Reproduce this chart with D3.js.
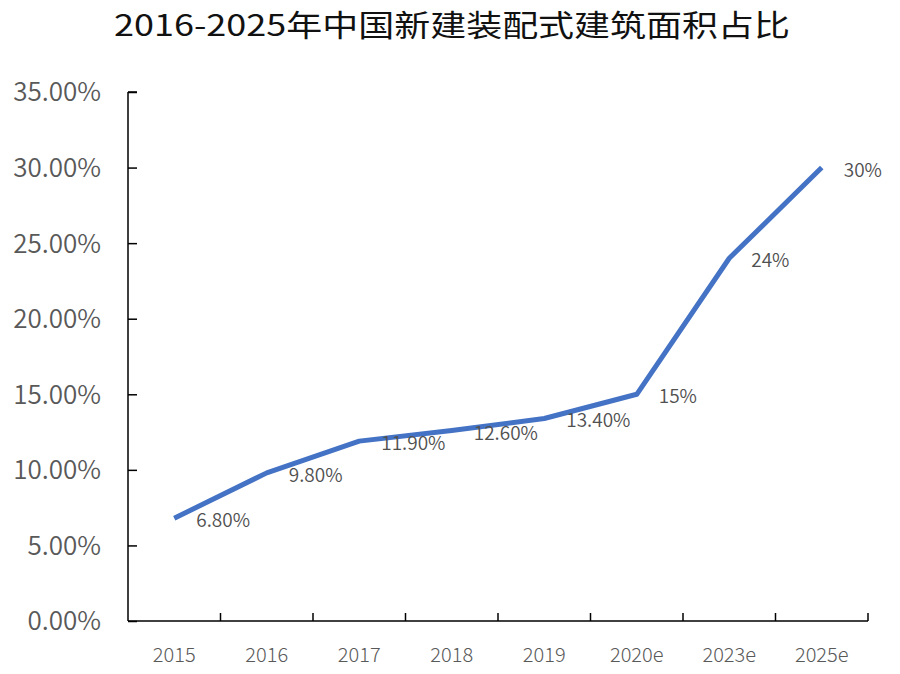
<!DOCTYPE html>
<html><head><meta charset="utf-8">
<script src="https://cdn.jsdelivr.net/npm/d3@7"></script>
<style>body{margin:0;background:#fff}</style>
</head><body>
<svg id="c" width="900" height="674"></svg>
<script>
const title = "2016-2025年中国新建装配式建筑面积占比";
const categories = ["2015","2016","2017","2018","2019","2020e","2023e","2025e"];
const values = [6.8, 9.8, 11.9, 12.6, 13.4, 15, 24, 30];
const valueLabels = ["6.80%","9.80%","11.90%","12.60%","13.40%","15%","24%","30%"];
const yTicks = [0,5,10,15,20,25,30,35];

const svg = d3.select("#c");
const font = "'Noto Sans CJK SC','Noto Sans',sans-serif";
const L = 128, R = 868, T = 92, B = 621;

svg.append("text").attr("x", 452).attr("y", 36).attr("text-anchor","middle")
  .attr("font-family", font).attr("font-size", 30).attr("fill","#111")
  .attr("textLength", 676).attr("lengthAdjust","spacingAndGlyphs").text(title);

const x = d3.scaleBand().domain(categories).range([L, R]);
const y = d3.scaleLinear().domain([0,35]).range([B, T]);

const yAxis = svg.append("g").attr("transform",`translate(${L},0)`)
  .call(d3.axisRight(y).tickValues(yTicks).tickSize(9).tickFormat(""));
yAxis.selectAll("path,line").attr("stroke","#000").attr("stroke-width",1.5);
yAxis.select("path").attr("d", `M0,${T}H9M0,${T}V${B}`);
yTicks.forEach(t => {
  svg.append("text").attr("x", 101).attr("y", y(t)).attr("dy","0.36em")
    .attr("text-anchor","end").attr("font-family", font).attr("font-size", 26)
    .attr("font-weight", 350).attr("fill","#595959").text(t.toFixed(2) + "%");
});

const xAxis = svg.append("g").attr("transform",`translate(0,${B})`)
  .call(d3.axisTop(x).tickSize(0).tickFormat(""));
xAxis.select("path").attr("stroke","#000").attr("stroke-width",1.5).attr("d",`M${L},0H${R}`);
const bounds = categories.map((c,i)=> x(c) + x.bandwidth());
svg.append("g").selectAll("line").data(bounds).join("line")
  .attr("x1", d=>d).attr("x2", d=>d).attr("y1", B).attr("y2", B-8)
  .attr("stroke","#000").attr("stroke-width",1.5);
svg.append("g").selectAll("text").data(categories).join("text")
  .attr("x", d => x(d) + x.bandwidth()/2).attr("y", 662).attr("text-anchor","middle")
  .attr("font-family", font).attr("font-size", 20).attr("font-weight", 300)
  .attr("fill","#595959").text(d=>d);

const pts = categories.map((c,i)=>[x(c)+x.bandwidth()/2, y(values[i])]);
svg.append("path").attr("d", d3.line()(pts)).attr("fill","none")
  .attr("stroke","#4472C4").attr("stroke-width",5).attr("stroke-linejoin","round");

svg.append("g").selectAll("text").data(pts).join("text")
  .attr("x", d => d[0] + 22).attr("y", d => d[1] + 9)
  .attr("font-family", font).attr("font-size", 19).attr("font-weight", 350)
  .attr("fill","#505050")
  .text((d,i)=>valueLabels[i]);
</script>
</body></html>
